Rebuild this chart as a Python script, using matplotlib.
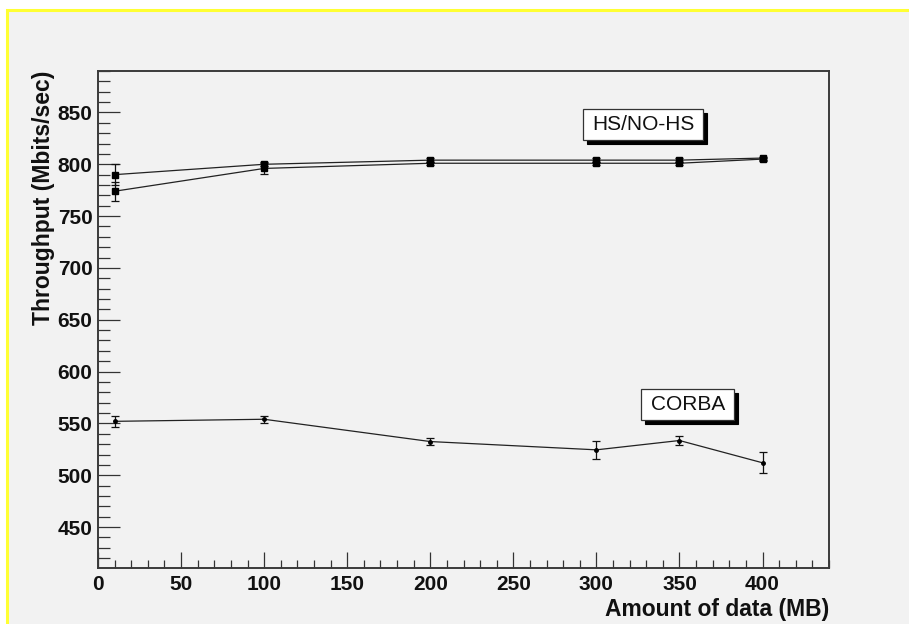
import matplotlib
matplotlib.use("Agg")
import matplotlib.pyplot as plt
from matplotlib.patches import Rectangle
from matplotlib.ticker import MultipleLocator

# ---- data ----
x_mb = [10, 100, 200, 300, 350, 400]
hs_vals = [790, 800, 804, 804, 804, 806]
hs_err = [10, 2, 2, 2, 2, 1.5]
nohs_vals = [774, 796, 801, 801, 801, 805]
nohs_err = [9, 5, 1.5, 1.5, 1.5, 1.5]
corba_vals = [552, 554, 532.5, 524.5, 533.5, 512]
corba_err = [5, 3.5, 3.5, 8.5, 4.5, 10]

x_label = "Amount of data (MB)"
y_label = "Throughput (Mbits/sec)"
box_labels = ["HS/NO-HS", "CORBA"]

W, H = 909, 624
fig = plt.figure(figsize=(W / 100, H / 100), dpi=100, facecolor="white")

bg = "#f2f2f2"
# canvas with yellow border (left and top visible)
fig.patches.append(Rectangle((7 / W, -0.05), 1.2, (H - 10) / H + 0.05,
                             transform=fig.transFigure, facecolor=bg,
                             edgecolor="#ffff33", linewidth=2.2, zorder=-10))

ax = fig.add_axes([98 / W, (H - 568) / H, (829 - 98) / W, (568 - 71) / H])
ax.set_facecolor(bg)
ax.set_zorder(5)

line_col = "#222222"
ax.errorbar(x_mb, hs_vals, yerr=hs_err, fmt="-s", color=line_col, ecolor="#111111",
            mfc="black", mec="black", ms=4, lw=0.9, elinewidth=0.9, capsize=3, capthick=0.9)
ax.errorbar(x_mb, nohs_vals, yerr=nohs_err, fmt="-s", color=line_col, ecolor="#111111",
            mfc="black", mec="black", ms=4, lw=0.9, elinewidth=0.9, capsize=3, capthick=0.9)
ax.errorbar(x_mb, corba_vals, yerr=corba_err, fmt="-o", color=line_col, ecolor="#111111",
            mfc="black", mec="black", ms=2.5, lw=0.9, elinewidth=0.9, capsize=3, capthick=0.9)

ax.set_xlim(0, 440)
ax.set_ylim(410.5, 890)

ax.xaxis.set_major_locator(MultipleLocator(50))
ax.xaxis.set_minor_locator(MultipleLocator(10))
ax.yaxis.set_major_locator(MultipleLocator(50))
ax.yaxis.set_minor_locator(MultipleLocator(10))

tick_col = "#333333"
ax.tick_params(axis="x", which="major", direction="in", length=11.3, width=0.9,
               color=tick_col, pad=5)
ax.tick_params(axis="x", which="minor", direction="in", length=6, width=0.9, color=tick_col)
ax.tick_params(axis="y", which="major", direction="in", length=15.6, width=0.9,
               color=tick_col, pad=4)
ax.tick_params(axis="y", which="minor", direction="in", length=8.4, width=0.9, color=tick_col)

for lab in ax.get_xticklabels() + ax.get_yticklabels():
    lab.set_fontfamily("Liberation Sans")
    lab.set_fontweight("bold")
    lab.set_fontsize(15)
    lab.set_color("#111111")

for sp in ax.spines.values():
    sp.set_color("#3a3a3a")
    sp.set_linewidth(1.4)

ax.set_xlabel(x_label, loc="right", fontfamily="Liberation Sans", fontweight="bold",
              fontsize=16.5, color="#111111")
ax.xaxis.set_label_coords(1.0, -0.060)
ax.set_ylabel(y_label, loc="top", fontfamily="Liberation Sans", fontweight="bold",
              fontsize=16.5, color="#111111")
ax.yaxis.set_label_coords(-0.059, 1.0)

# label boxes with shadow
boxes = [
    (box_labels[0], (583 - 98) / 731, (703 - 98) / 731, (568 - 140.3) / 497, (568 - 109) / 497),
    (box_labels[1], (641 - 98) / 731, (734.3 - 98) / 731, (568 - 420.3) / 497, (568 - 389.3) / 497),
]
dx, dy = 4 / 731, 4 / 497
for text, l, r, b, t in boxes:
    ax.add_patch(Rectangle((l + dx, b - dy), r - l, t - b, transform=ax.transAxes,
                           facecolor="black", edgecolor="black", lw=0.8, zorder=5))
    ax.add_patch(Rectangle((l, b), r - l, t - b, transform=ax.transAxes,
                           facecolor="white", edgecolor="#333333", lw=0.9, zorder=6))
    ax.text((l + r) / 2, (b + t) / 2, text, transform=ax.transAxes, ha="center",
            va="center", fontfamily="Liberation Sans", fontsize=15, color="#111111",
            zorder=7)

fig.savefig("out.png", dpi=100, facecolor=fig.get_facecolor())
